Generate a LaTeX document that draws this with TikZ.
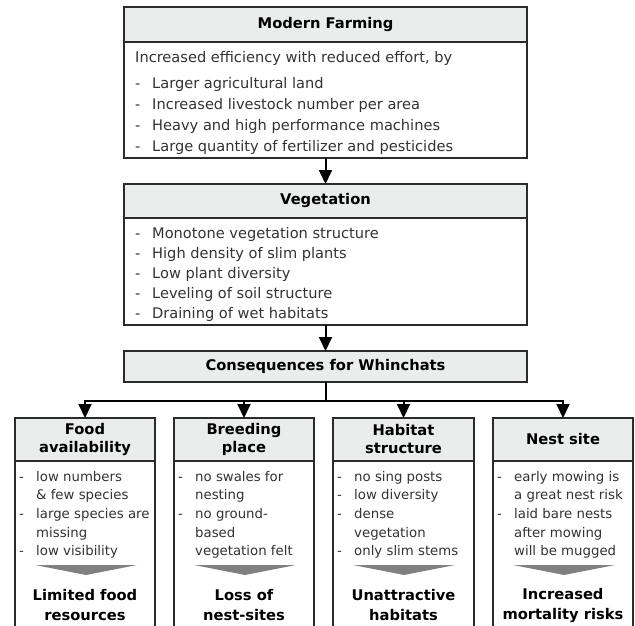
\documentclass[tikz,border=0pt]{standalone}
\usepackage{fontspec}
\setmainfont{DejaVu Sans}
\usetikzlibrary{arrows.meta,positioning}
\definecolor{headgray}{HTML}{EBECEC}
\definecolor{framegray}{HTML}{2B2B2B}
\definecolor{textgray}{HTML}{333333}
\definecolor{wedgegray}{HTML}{808080}
\newcommand{\dashline}[1]{\makebox[17pt][l]{-}#1}
\newcommand{\contline}[1]{\hspace*{17pt}#1}
\tikzset{
	headbox/.style={draw=framegray, line width=1.8pt, fill=headgray, align=center,
		inner sep=0pt, outer sep=0pt, font=\fontsize{14.7}{18}\selectfont\bfseries},
	bodybox/.style={draw=framegray, line width=1.8pt, fill=white, inner sep=0pt, outer sep=0pt},
	listtext/.style={text=textgray, align=left, inner sep=0pt, anchor=north west,
		font=\fontsize{14.6}{21}\selectfont},
	smalllist/.style={listtext, font=\fontsize{13.3}{18.6}\selectfont},
	resulttext/.style={align=center, inner sep=0pt,
		font=\fontsize{14.7}{20}\selectfont\bfseries},
	flowarrow/.style={draw=black, line width=2pt, -{Triangle[length=14pt,width=13pt]}},
}
\begin{document}
\begin{tikzpicture}[x=1pt, y=-1pt]
	\clip (0,0) rectangle (635,626);
	% Modern Farming
	\node[headbox, minimum width=403pt, minimum height=35pt] (farmHead) at (325.5, 24.5) {Modern Farming};
	\node[bodybox, anchor=north, minimum width=403pt, minimum height=116pt] (farmBody) at (farmHead.south) {};
	\node[listtext] (farmList) at (135, 51) {Increased efficiency with reduced effort, by\\[5pt]
		\dashline{Larger agricultural land}\\
		\dashline{Increased livestock number per area}\\
		\dashline{Heavy and high performance machines}\\
		\dashline{Large quantity of fertilizer and pesticides}};

	% Vegetation
	\node[headbox, minimum width=403pt, minimum height=34pt] (vegHead) at (325.5, 201) {Vegetation};
	\node[bodybox, anchor=north, minimum width=403pt, minimum height=107pt] (vegBody) at (vegHead.south) {};
	\node[listtext, font=\fontsize{14.6}{20}\selectfont] (vegList) at (135, 227) {\dashline{Monotone vegetation structure}\\
		\dashline{High density of slim plants}\\
		\dashline{Low plant diversity}\\
		\dashline{Leveling of soil structure}\\
		\dashline{Draining of wet habitats}};

	% Consequences
	\node[headbox, minimum width=403pt, minimum height=31pt] (consHead) at (325.5, 366.5) {Consequences for Whinchats};

	% untere Kaesten
	\node[headbox, minimum width=140pt, minimum height=43pt] (foodHead) at (85, 439.5) {Food\\availability};
	\node[bodybox, anchor=north, minimum width=140pt, minimum height=240pt] (foodBody) at (foodHead.south) {};
	\node[smalllist] (foodList) at (19, 471) {\dashline{low numbers}\\
		\contline{\& few species}\\
		\dashline{large species are}\\
		\contline{missing}\\
		\dashline{low visibility}};
	\fill[wedgegray] (35, 565) -- (137, 565) -- (86, 575) -- cycle;
	\node[resulttext] (foodRes) at (85, 605) {Limited food\\resources};

	\node[headbox, minimum width=140pt, minimum height=43pt] (breedHead) at (244, 439.5) {Breeding\\place};
	\node[bodybox, anchor=north, minimum width=140pt, minimum height=240pt] (breedBody) at (breedHead.south) {};
	\node[smalllist] (breedList) at (178, 471) {\dashline{no swales for}\\
		\contline{nesting}\\
		\dashline{no ground-}\\
		\contline{based}\\
		\contline{vegetation felt}};
	\fill[wedgegray] (194, 565) -- (296, 565) -- (245, 575) -- cycle;
	\node[resulttext] (breedRes) at (244, 605) {Loss of\\nest-sites};

	\node[headbox, minimum width=141pt, minimum height=43pt] (habHead) at (403.5, 439.5) {Habitat\\structure};
	\node[bodybox, anchor=north, minimum width=141pt, minimum height=240pt] (habBody) at (habHead.south) {};
	\node[smalllist] (habList) at (337, 471) {\dashline{no sing posts}\\
		\dashline{low diversity}\\
		\dashline{dense}\\
		\contline{vegetation}\\
		\dashline{only slim stems}};
	\fill[wedgegray] (353, 565) -- (455, 565) -- (404, 575) -- cycle;
	\node[resulttext] (habRes) at (403.5, 605) {Unattractive\\habitats};

	\node[headbox, minimum width=140pt, minimum height=43pt] (nestHead) at (563, 439.5) {Nest site};
	\node[bodybox, anchor=north, minimum width=140pt, minimum height=240pt] (nestBody) at (nestHead.south) {};
	\node[smalllist] (nestList) at (497, 471) {\dashline{early mowing is}\\
		\contline{a great nest risk}\\
		\dashline{laid bare nests}\\
		\contline{after mowing}\\
		\contline{will be mugged}};
	\fill[wedgegray] (513, 565) -- (615, 565) -- (564, 575) -- cycle;
	\node[resulttext] (nestRes) at (563, 605) {Increased\\mortality risks};

	% Pfeile
	\draw[flowarrow] (farmBody.south) -- (vegHead.north);
	\draw[flowarrow] (vegBody.south) -- (consHead.north);
	\draw[line width=2pt] (consHead.south) -- ++(0,19) coordinate (bus);
	\foreach \target in {foodHead, breedHead, habHead, nestHead}
		\draw[flowarrow] (bus) -| (\target.north);
\end{tikzpicture}
\end{document}
